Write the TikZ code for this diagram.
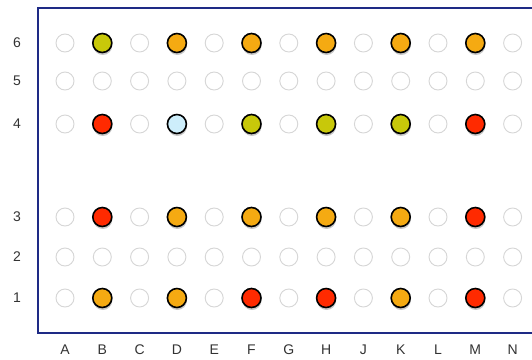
\documentclass[tikz,border=0pt]{standalone}
\usepackage{fontspec}
\setmainfont{Liberation Sans}
\usetikzlibrary{shadows}
\definecolor{frameblue}{HTML}{1E2A85}
\definecolor{emptyedge}{HTML}{D6D6D6}
\definecolor{cOlive}{HTML}{C8C80A}
\definecolor{cOrange}{HTML}{F5AA12}
\definecolor{cRed}{HTML}{FF2A00}
\definecolor{cBlue}{HTML}{CDEEFB}
\definecolor{labelgray}{HTML}{333333}
\tikzset{
  well/.style={circle, minimum size=18pt, inner sep=0pt, draw=emptyedge, line width=0.9pt, fill=white},
  filled/.style={circle, minimum size=19pt, inner sep=0pt, draw=black, line width=1.6pt, fill=#1,
     drop shadow={shadow xshift=0.5pt, shadow yshift=-2.5pt, opacity=0.22, fill=black}},
  lab/.style={text=labelgray, font=\fontsize{14}{16}\selectfont, inner sep=0pt},
  frameline/.style={draw=frameblue, line width=2pt}
}
\begin{document}
\begin{tikzpicture}[x=1pt,y=-1pt]
\useasboundingbox (0,0) rectangle (532,359);
\fill[white] (0,0) rectangle (532,359);
\coordinate (ftr) at (545,8);
\coordinate (ftl) at (38,8);
\coordinate (fbl) at (38,333);
\coordinate (fbr) at (545,333);
\begin{scope}
\clip (0,0) rectangle (532,359);
\draw[frameline] (ftr) -- (ftl) -- (fbl) -- (fbr);
\end{scope}
% column positions
\foreach \c/\x in {A/65,B/102.3,C/139.6,D/176.9,E/214.2,F/251.5,G/288.8,H/326.1,J/363.4,K/400.7,L/438,M/475.3,N/512.6}{
  \node[lab] (col-\c) at (\x,350) {\c};
  \foreach \r/\y in {6/43,5/81,4/124,3/217,2/257,1/298}{
    \node[well] (w-\c-\r) at (\x,\y) {};
  }
}
\foreach \r/\y in {6/43,5/81,4/124,3/217,2/257,1/298}{
  \node[lab] (row-\r) at (17,\y) {\r};
}
% filled wells
\foreach \c/\r/\col in {B/6/cOlive,D/6/cOrange,F/6/cOrange,H/6/cOrange,K/6/cOrange,M/6/cOrange,
  B/4/cRed,D/4/cBlue,F/4/cOlive,H/4/cOlive,K/4/cOlive,M/4/cRed,
  B/3/cRed,D/3/cOrange,F/3/cOrange,H/3/cOrange,K/3/cOrange,M/3/cRed,
  B/1/cOrange,D/1/cOrange,F/1/cRed,H/1/cRed,K/1/cOrange,M/1/cRed}{
  \node[filled=\col] (f-\c-\r) at (w-\c-\r.center) {};
}
\end{tikzpicture}
\end{document}
